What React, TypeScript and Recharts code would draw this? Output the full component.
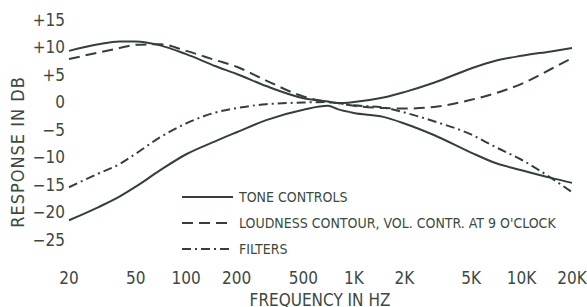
import { LineChart, Line, XAxis, YAxis } from 'recharts';

const freqs = [20, 30, 40, 50, 70, 100, 150, 200, 300, 500, 700, 800, 1000, 1500, 2000, 3000, 5000, 7000, 10000, 15000, 20000];
const toneBoost = [9.3, 10.5, 11.0, 11.0, 10.3, 8.7, 6.5, 5.1, 2.9, 0.7, 0.1, -0.2, 0.0, 0.8, 1.8, 3.5, 6.1, 7.5, 8.4, 9.2, 9.8];
const toneCut = [-21.5, -19.1, -17.2, -15.4, -12.4, -9.5, -7.1, -5.5, -3.3, -1.4, -0.7, -1.3, -2.0, -2.7, -3.9, -6.0, -9.2, -11.1, -12.4, -13.8, -14.7];
const loudness = [7.8, 9.0, 9.8, 10.4, 10.5, 9.3, 7.6, 6.4, 3.9, 1.0, 0.0, -0.2, -0.7, -1.1, -1.2, -0.9, 0.4, 1.6, 3.3, 6.0, 8.0];
const filters = [-15.5, -13.0, -11.3, -9.4, -6.4, -3.9, -1.9, -1.1, -0.4, -0.1, 0.0, -0.2, -0.6, -1.0, -1.9, -3.5, -5.9, -8.2, -10.5, -13.8, -16.4];

const xTicks = [20, 50, 100, 200, 500, 1000, 2000, 5000, 10000, 20000];
const xTickLabels = ['20', '50', '100', '200', '500', '1K', '2K', '5K', '10K', '20K'];
const yTicks = [15, 10, 5, 0, -5, -10, -15, -20, -25];
const yTickLabels = ['+15', '+10', '+5', '0', '\u22125', '\u221210', '\u221215', '\u221220', '\u221225'];

const legendItems = [
  { label: 'TONE CONTROLS', dash: undefined as string | undefined },
  { label: "LOUDNESS CONTOUR, VOL. CONTR. AT 9 O'CLOCK", dash: '11 6' },
  { label: 'FILTERS', dash: '9 4 2 4' },
];

const data = freqs.map((f, i) => ({
  f,
  boost: toneBoost[i],
  cut: toneCut[i],
  loud: loudness[i],
  filt: filters[i],
}));

const FONT = '"DejaVu Sans Condensed", "Liberation Sans Narrow", "Roboto Condensed", sans-serif';
const INK = '#3a4b3e';
const LINE = '#33403a';

const XTick = (props: any) => {
  const i = xTicks.indexOf(props.payload.value);
  return (
    <text x={props.x} y={278} textAnchor="middle" dominantBaseline="central" fontFamily={FONT} fontSize={17} fill={INK}>
      {xTickLabels[i]}
    </text>
  );
};

const YTick = (props: any) => {
  const i = yTicks.indexOf(props.payload.value);
  return (
    <text x={65} y={props.y} textAnchor="end" dominantBaseline="central" fontFamily={FONT} fontSize={17} fill={INK}>
      {yTickLabels[i]}
    </text>
  );
};

export default function App() {
  return (
    <div style={{ position: 'absolute', left: 0, top: 0, width: 587, height: 307, background: '#fff' }}>
      <LineChart width={587} height={307} data={data} margin={{ top: 19.5, right: 15, bottom: 27.5, left: 0 }}>
        <XAxis
          dataKey="f"
          type="number"
          scale="log"
          domain={[20, 20000]}
          ticks={xTicks}
          axisLine={false}
          tickLine={false}
          height={40}
          tick={<XTick />}
          interval={0}
        />
        <YAxis
          type="number"
          domain={[-25, 15]}
          ticks={yTicks}
          axisLine={false}
          tickLine={false}
          width={69}
          tick={<YTick />}
          interval={0}
        />
        <Line dataKey="boost" type="monotone" stroke={LINE} strokeWidth={2} dot={false} isAnimationActive={false} />
        <Line dataKey="cut" type="monotone" stroke={LINE} strokeWidth={2} dot={false} isAnimationActive={false} />
        <Line dataKey="loud" type="monotone" stroke={LINE} strokeWidth={2} strokeDasharray="11 6" dot={false} isAnimationActive={false} />
        <Line dataKey="filt" type="monotone" stroke={LINE} strokeWidth={2} strokeDasharray="9 4 2 4" dot={false} isAnimationActive={false} />
      </LineChart>
      <div style={{ position: 'absolute', left: 0, top: 0, pointerEvents: 'none' }}>
        <svg width={587} height={307}>
          {legendItems.map((it, i) => (
            <g key={it.label}>
              <line x1={182} x2={233} y1={197 + i * 26} y2={197 + i * 26} stroke={LINE} strokeWidth={2} strokeDasharray={it.dash} />
              <text x={239} y={197 + i * 26} dominantBaseline="central" fontFamily={FONT} fontSize={14} fill={INK}>
                {it.label}
              </text>
            </g>
          ))}
          <text x={17} y={152} transform="rotate(-90 17 152)" textAnchor="middle" dominantBaseline="central" fontFamily={FONT} fontSize={18} letterSpacing={1} fill={INK}>
            RESPONSE IN DB
          </text>
          <text x={320} y={300} textAnchor="middle" dominantBaseline="central" fontFamily={FONT} fontSize={17} fill={INK}>
            FREQUENCY IN HZ
          </text>
        </svg>
      </div>
    </div>
  );
}
